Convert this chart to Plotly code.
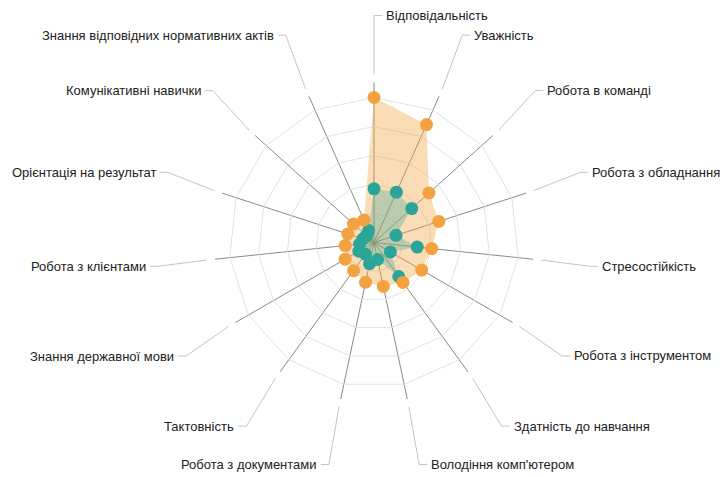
import math
import plotly.graph_objects as go

# ---------------- data ----------------
categories = [
    "Відповідальність",
    "Уважність",
    "Робота в команді",
    "Робота з обладнанням",
    "Стресостійкість",
    "Робота з інструментом",
    "Здатність до навчання",
    "Володіння комп'ютером",
    "Робота з документами",
    "Тактовність",
    "Знання державної мови",
    "Робота з клієнтами",
    "Орієнтація на результат",
    "Комунікативні навички",
    "Знання відповідних нормативних актів",
]
orange_values = [100, 89, 51, 47, 40, 38, 34, 31, 28, 24, 23, 20, 19, 19, 17]
teal_values = [37, 38, 35, 16, 30, 13, 29, 12, 15, 10, 12, 10, 8, 7, 9]
ring_ticks = [20, 40, 60, 80, 100]

# ---------------- styling / geometry ----------------
PAGE_OFF = 8                 # browser body margin
W, H = 728 - PAGE_OFF, 477 - PAGE_OFF
CX, CY = 374 - PAGE_OFF, 242.5 - PAGE_OFF   # centre of the radar (figure pixels)
R_SPOKE = 160                # pixel length of the dark spokes
R_RING = 145                 # pixel radius of the outermost ring (value 100)
R_LEAD0 = 168                # where light leader lines start
RX_LAB, RY_LAB = 217, 227    # where leader lines bend
TICK = 8

ORANGE = "#F2A23E"
TEAL = "#2AA597"

fig = go.Figure()

closed_theta = categories + [categories[0]]
fig.add_trace(go.Scatterpolar(
    r=orange_values + [orange_values[0]], theta=closed_theta,
    mode="lines", line=dict(width=0, color=ORANGE),
    fill="toself", fillcolor="rgba(242,162,62,0.38)", hoverinfo="skip",
))
fig.add_trace(go.Scatterpolar(
    r=teal_values + [teal_values[0]], theta=closed_theta,
    mode="lines", line=dict(width=0, color=TEAL),
    fill="toself", fillcolor="rgba(42,165,151,0.30)", hoverinfo="skip",
))
fig.add_trace(go.Scatterpolar(
    r=teal_values, theta=categories, mode="markers",
    marker=dict(size=13, color=TEAL),
))
fig.add_trace(go.Scatterpolar(
    r=orange_values, theta=categories, mode="markers",
    marker=dict(size=13, color=ORANGE),
))

def px(x):
    return x / W

def py(y):
    return 1 - y / H

shapes = []
annotations = []
n = len(categories)
for k, name in enumerate(categories):
    th = math.radians(360.0 * k / n)
    s, c = math.sin(th), math.cos(th)
    x0, y0 = CX + R_LEAD0 * s, CY - R_LEAD0 * c
    x1, y1 = CX + RX_LAB * s, CY - RY_LAB * c
    side = 1 if s >= -1e-9 else -1
    x2 = x1 + side * TICK
    shapes.append(dict(
        type="path", xref="paper", yref="paper",
        path=f"M {px(x0)},{py(y0)} L {px(x1)},{py(y1)} L {px(x2)},{py(y1)}",
        line=dict(color="#c4c4c4", width=1),
    ))
    annotations.append(dict(
        x=px(x2 + side * 2), y=py(y1), xref="paper", yref="paper",
        text=name, showarrow=False,
        xanchor="left" if side > 0 else "right", yanchor="middle",
        font=dict(family="Liberation Sans, Arial, sans-serif", size=13, color="#222222"),
    ))

fig.update_layout(
    width=W, height=H,
    margin=dict(l=0, r=0, t=0, b=0),
    paper_bgcolor="white",
    plot_bgcolor="white",
    showlegend=False,
    shapes=shapes,
    annotations=annotations,
    polar=dict(
        domain=dict(x=[px(CX - R_SPOKE), px(CX + R_SPOKE)],
                    y=[py(CY + R_SPOKE), py(CY - R_SPOKE)]),
        gridshape="linear",
        bgcolor="rgba(0,0,0,0)",
        radialaxis=dict(
            range=[0, 100 * R_SPOKE / R_RING], tickvals=ring_ticks,
            showticklabels=False, ticks="", showline=False,
            gridcolor="#e2e2e2", gridwidth=1.3,
        ),
        angularaxis=dict(
            direction="clockwise", rotation=90,
            categoryorder="array", categoryarray=categories,
            showticklabels=False, ticks="", showline=False,
            gridcolor="#8a8a8a", gridwidth=1.3,
        ),
    ),
)

fig.write_html("out.html")
